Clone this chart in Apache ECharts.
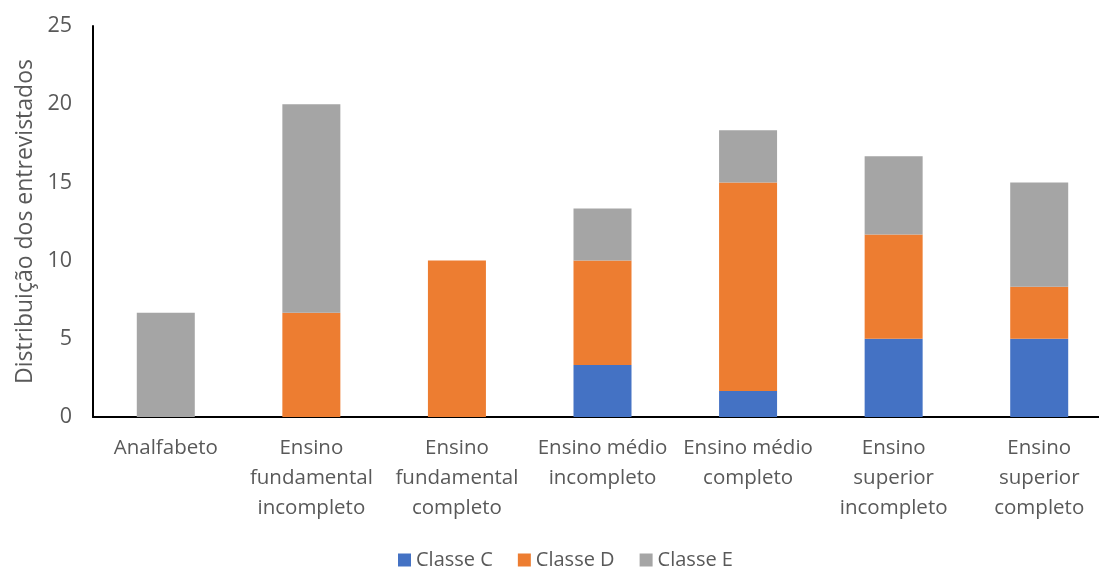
<!DOCTYPE html>
<html><head><meta charset="utf-8">
<script src="https://cdn.jsdelivr.net/npm/echarts@6/dist/echarts.min.js"></script>
<style>html,body{margin:0;padding:0;background:#fff}#c{width:1099px;height:569px}</style>
</head><body><div id="c"></div>
<script>
var categories = ['Analfabeto', 'Ensino\nfundamental\nincompleto', 'Ensino\nfundamental\ncompleto', 'Ensino médio\nincompleto', 'Ensino médio\ncompleto', 'Ensino\nsuperior\nincompleto', 'Ensino\nsuperior\ncompleto'];
var classeC = [0, 0, 0, 3.33, 1.67, 5, 5];
var classeD = [0, 6.67, 10, 6.67, 13.33, 6.67, 3.33];
var classeE = [6.67, 13.33, 0, 3.33, 3.33, 5, 6.67];
var yTicks = [0, 5, 10, 15, 20, 25];

var font = '"Open Sans", "Noto Sans", sans-serif';
var chart = echarts.init(document.getElementById('c'));
function s(name, data, color) {
  return {name: name, type: 'bar', stack: 'a', data: data, barWidth: 58,
    itemStyle: {color: color}, emphasis: {disabled: true}};
}
chart.setOption({
  animation: false,
  textStyle: {fontFamily: font},
  grid: {left: 93, width: 1019, top: 26, height: 391, outerBoundsMode: 'none', containLabel: false},
  legend: {top: 545, left: 393, itemWidth: 13, itemHeight: 13, itemGap: 25, icon: 'rect',
    textStyle: {fontSize: 20, color: '#595959', fontFamily: font},
    data: ['Classe C', 'Classe D', 'Classe E']},
  xAxis: {type: 'category', data: categories,
    axisLine: {lineStyle: {color: '#000', width: 2}},
    axisTick: {show: false},
    axisLabel: {fontSize: 20.5, color: '#595959', lineHeight: 30, margin: 16, interval: 0, fontFamily: font}},
  yAxis: {type: 'value', min: 0, max: 25, interval: 5,
    name: 'Distribuição dos entrevistados', nameLocation: 'middle', nameGap: 49,
    nameTextStyle: {fontSize: 23, color: '#595959', fontFamily: font},
    axisLine: {show: true, lineStyle: {color: '#000', width: 2}},
    splitLine: {show: false}, axisTick: {show: false},
    axisLabel: {fontSize: 21.5, color: '#595959', margin: 21, fontFamily: font,
      formatter: function (v) { return yTicks.indexOf(v) >= 0 ? String(v) : ''; }}},
  series: [s('Classe C', classeC, '#4472C4'), s('Classe D', classeD, '#ED7D31'), s('Classe E', classeE, '#A5A5A5')]
});
</script></body></html>
